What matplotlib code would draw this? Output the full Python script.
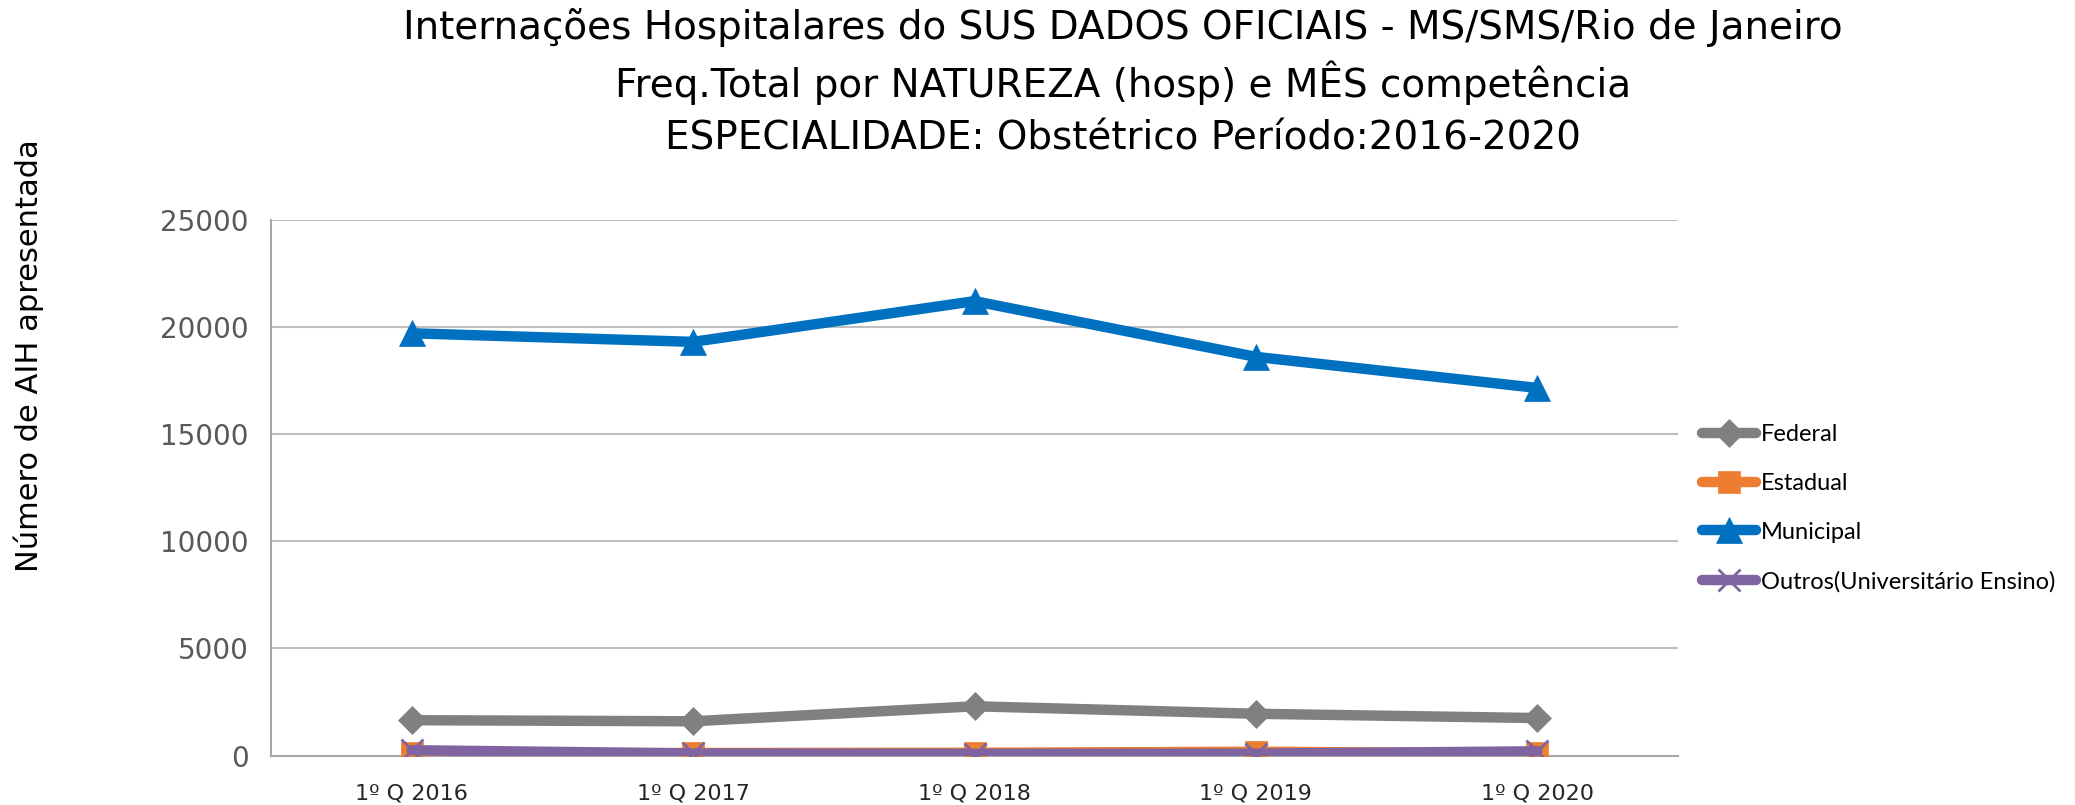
import matplotlib
matplotlib.use("Agg")
import matplotlib.pyplot as plt
import numpy as np

# dados (Freq. total AIH, especialidade obstetrico)
periodos = ['1º Q 2016', '1º Q 2017', '1º Q 2018', '1º Q 2019', '1º Q 2020']
federal = [1650, 1600, 2300, 1950, 1750]
estadual = [100, 120, 130, 180, 100]
municipal = [19700, 19300, 21200, 18600, 17150]
outros = [250, 100, 80, 90, 200]

nomes = ['Federal', 'Estadual', 'Municipal', 'Outros(Universitário Ensino)']
cores = ['#808080', '#ED7D31', '#0070C0', '#8064A2']
marcadores = ['D', 's', '^', 'x']
tamanhos = [14, 16, 19, 16]

plt.rcParams['font.family'] = ['DejaVu Sans']

fig = plt.figure(figsize=(20.75, 8.05), dpi=100)
ax = fig.add_axes([0.1306, 0.0614, 0.6781, 0.6657])

x = np.arange(len(periodos))
series = [federal, estadual, municipal, outros]
for i in range(len(series)):
    ax.plot(x, series[i], color=cores[i], lw=7.5, marker=marcadores[i],
            markersize=tamanhos[i], markeredgewidth=2 if marcadores[i] == 'x' else 0.5,
            markeredgecolor=cores[i], label=nomes[i], zorder=3 + i,
            solid_capstyle='round')

ax.set_xlim(-0.5, len(periodos) - 0.5)
ax.set_ylim(0, 25000)
ax.set_yticks(np.arange(0, 25001, 5000))
ax.set_xticks(x)
ax.set_xticklabels(periodos, fontsize=16, color='#262626')
ax.tick_params(axis='y', labelsize=20, labelcolor='#595959', length=0, pad=16)
ax.tick_params(axis='x', length=0, pad=20)
ax.grid(axis='y', color='#BFBFBF', lw=1.5)
ax.set_axisbelow(True)
for s in ['top', 'right']:
    ax.spines[s].set_visible(False)
for s in ['left', 'bottom']:
    ax.spines[s].set_color('#A6A6A6')
    ax.spines[s].set_linewidth(1.5)

fig.text(0.541, 1 - 28 / 805, 'Internações Hospitalares do SUS DADOS OFICIAIS - MS/SMS/Rio de Janeiro',
         ha='center', va='center', fontsize=28)
fig.text(0.541, 1 - 83 / 805, 'Freq.Total por NATUREZA (hosp) e MÊS competência',
         ha='center', va='center', fontsize=28)
fig.text(0.541, 1 - 139 / 805, 'ESPECIALIDADE: Obstétrico Período:2016-2020',
         ha='center', va='center', fontsize=28)

fig.text(0.014, 0.558, 'Número de AIH apresentada', rotation=90,
         ha='center', va='center', fontsize=22)

fig.legend(loc='upper left', bbox_to_anchor=(1702 / 2075, 1 - 424 / 805), frameon=False,
           prop={'family': 'Lato', 'size': 17}, handlelength=2.3, handletextpad=0.2,
           labelspacing=1.18, borderpad=0, borderaxespad=0)

fig.savefig('out.png', dpi=100)
